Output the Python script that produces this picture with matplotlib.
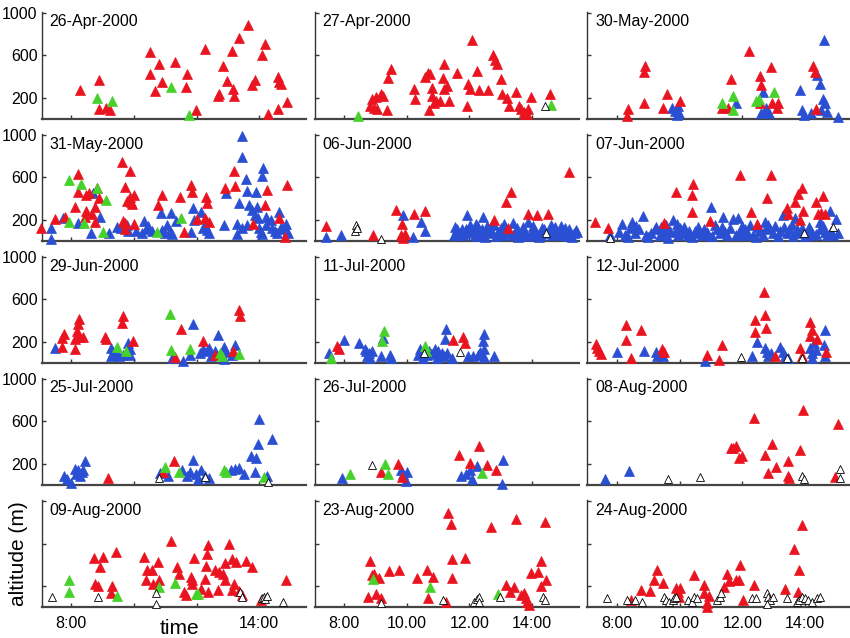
import matplotlib
matplotlib.use("Agg")
import matplotlib.pyplot as plt

plt.rcParams['font.family'] = ['Liberation Sans', 'DejaVu Sans']

# ---- data: (time in hours, altitude in m) per panel and class ----
# r = red, b = blue, g = green, o = open triangles

apr26_r = [(8.26, 274), (8.87, 370), (8.87, 94), (9.1, 104), (9.25, 82), (10.5, 632), (10.52, 424),
           (10.68, 264), (10.8, 514), (10.9, 344), (11.3, 536), (11.65, 302), (11.69, 424), (11.98, 82),
           (12.26, 658), (12.7, 216), (12.73, 238), (12.85, 504), (12.99, 360), (13.13, 638), (13.17, 286),
           (13.2, 216), (13.36, 766), (13.65, 882), (13.77, 318), (13.86, 366), (14.1, 606), (14.2, 702),
           (14.3, 50), (14.6, 94), (14.6, 392), (14.64, 344), (14.7, 328), (14.9, 158)]
apr26_g = [(8.82, 194), (9.3, 168), (11.18, 306), (11.77, 40)]

apr27_r = [(8.83, 120), (8.89, 190), (8.94, 104), (9.0, 206), (9.05, 94), (9.18, 238), (9.23, 216),
           (9.36, 88), (9.4, 382), (9.5, 472), (10.24, 280), (10.27, 190), (10.59, 392), (10.68, 434),
           (10.7, 88), (10.73, 424), (10.79, 216), (10.82, 296), (10.86, 152), (10.94, 168), (11.05, 174),
           (11.17, 382), (11.2, 520), (11.2, 286), (11.28, 312), (11.35, 168), (11.6, 434), (11.94, 120),
           (11.96, 334), (12.03, 286), (12.1, 744), (12.26, 456), (12.31, 274), (12.61, 274), (12.77, 600),
           (12.82, 552), (12.87, 520), (13.0, 376), (13.05, 232), (13.19, 200), (13.26, 120), (13.48, 254),
           (13.6, 120), (13.66, 94), (13.75, 62), (13.78, 50), (13.83, 50), (13.87, 94), (13.96, 210),
           (14.59, 232)]
apr27_g = [(8.45, 30), (14.6, 136)]
apr27_o = [(14.41, 120)]

may30_r = [(8.32, 24), (8.36, 94), (8.85, 146), (8.85, 446), (8.9, 498), (9.46, 104), (9.6, 232),
           (10.02, 168), (11.36, 104), (11.55, 104), (11.64, 376), (12.23, 638), (12.58, 146), (12.58, 408),
           (12.61, 318), (12.91, 488), (12.96, 152), (13.1, 104), (13.14, 146), (14.27, 498), (14.32, 446),
           (14.36, 94)]
may30_b = [(9.77, 104), (9.84, 72), (9.9, 40), (9.95, 126), (9.99, 56), (11.8, 146), (12.61, 56),
           (12.66, 254), (12.75, 104), (12.79, 82), (12.87, 56), (13.84, 274), (13.92, 82), (13.98, 40),
           (14.19, 56), (14.39, 414), (14.48, 328), (14.53, 82), (14.58, 190), (14.65, 152), (14.62, 744),
           (14.71, 62), (15.06, 18)]
may30_g = [(11.35, 152), (11.69, 216), (11.72, 82), (12.44, 168), (12.53, 190), (13.01, 254)]

may31_r = [(7.04, 128), (7.47, 209), (7.81, 231), (8.11, 325), (8.2, 629), (8.2, 466), (8.43, 231),
           (8.47, 435), (8.55, 451), (8.47, 285), (8.75, 325), (8.83, 504), (8.88, 410), (8.66, 253),
           (8.77, 184), (9.62, 742), (9.73, 513), (9.78, 379), (9.89, 661), (9.64, 191), (9.73, 169),
           (9.86, 419), (9.92, 366), (9.99, 435), (9.94, 347), (9.71, 115), (9.99, 159), (10.77, 341),
           (10.9, 435), (11.46, 419), (11.6, 90), (11.81, 529), (11.84, 466), (12.02, 209), (12.31, 419),
           (12.35, 357), (12.27, 222), (12.4, 184), (12.91, 498), (13.2, 661), (13.23, 523), (13.81, 159),
           (14.19, 341), (14.26, 482), (14.64, 216), (14.83, 43), (14.88, 529)]
may31_b = [(7.36, 122), (7.36, 18), (7.72, 216), (8.2, 169), (8.69, 451), (8.93, 231), (8.64, 75),
           (9.2, 75), (9.46, 137), (9.78, 153), (9.81, 97), (10.05, 97), (10.32, 191), (10.26, 75),
           (10.37, 115), (10.58, 97), (10.85, 263), (10.9, 106), (11.06, 153), (11.17, 263), (11.22, 65),
           (11.14, 97), (11.33, 191), (11.81, 84), (11.88, 316), (11.92, 200), (12.13, 272), (12.27, 153),
           (12.34, 106), (12.4, 75), (12.88, 153), (12.93, 451), (13.3, 159), (13.3, 65), (13.36, 357),
           (13.44, 990), (13.46, 796), (13.62, 473), (13.59, 586), (13.62, 153), (13.68, 341), (13.76, 294),
           (13.89, 466), (13.87, 247), (13.94, 325), (13.98, 216), (14.05, 90), (14.1, 65), (14.14, 686),
           (14.1, 617), (14.21, 231), (14.23, 153), (14.37, 200), (14.42, 122), (14.58, 75), (14.64, 272),
           (14.69, 137), (14.87, 159), (14.9, 90), (14.94, 75), (9.6, 120), (10.45, 140), (11.0, 80),
           (12.2, 120), (13.45, 120), (14.0, 120), (14.5, 100), (14.75, 110)]
may31_g = [(7.94, 576), (7.94, 178), (8.32, 535), (8.39, 169), (8.83, 498), (9.12, 388), (9.0, 84),
           (10.74, 84), (11.49, 222)]

jun06_r = [(7.41, 147), (8.91, 59), (9.66, 294), (9.85, 159), (9.82, 59), (9.93, 65), (9.88, 34),
           (10.23, 253), (10.57, 285), (12.8, 200), (13.25, 122), (13.17, 366), (13.34, 466), (13.87, 253),
           (14.16, 247), (14.5, 253), (15.2, 648)]
jun06_b = [(7.41, 43), (7.91, 59), (9.88, 247), (10.2, 43), (10.47, 178), (10.59, 97),
           (11.54, 137), (11.59, 90), (11.64, 59), (11.75, 115), (11.86, 75), (11.94, 247), (12.02, 153),
           (12.13, 106), (12.18, 59), (12.29, 137), (12.34, 90), (12.45, 231), (12.5, 43), (12.66, 122),
           (12.72, 75), (12.8, 153), (12.93, 90), (13.04, 59), (13.14, 137), (13.25, 97), (13.38, 169),
           (13.47, 75), (13.57, 43), (13.68, 90), (13.79, 75), (13.89, 184), (13.98, 59), (14.11, 97),
           (14.22, 43), (14.32, 122), (14.43, 75), (14.54, 97), (14.65, 59), (14.75, 137), (14.86, 90),
           (14.97, 59), (15.07, 122), (15.18, 75), (15.29, 43), (15.4, 106), (15.45, 90),
           (11.7, 80), (11.9, 110), (12.4, 70), (12.6, 100), (13.0, 120), (13.4, 60), (13.7, 130),
           (14.0, 100), (14.4, 110), (14.8, 70), (15.2, 110), (12.2, 160), (13.1, 160), (14.6, 150),
           (11.62, 110), (11.8, 55), (12.05, 90), (12.25, 50), (12.55, 140), (12.85, 50), (13.2, 70),
           (13.52, 120), (13.85, 50), (14.05, 140), (14.3, 60), (14.7, 110), (14.92, 140), (15.12, 50),
           (15.35, 80), (11.5, 60), (12.42, 110), (13.62, 65), (14.15, 70), (15.0, 100)]
jun06_o = [(8.38, 153), (8.34, 97), (8.41, 122), (9.18, 21), (14.45, 75)]

jun07_r = [(7.29, 184), (7.71, 128), (9.49, 169), (9.88, 466), (10.43, 535), (10.41, 435), (10.38, 278),
           (10.96, 191), (11.94, 623), (12.28, 278), (12.48, 159), (12.8, 410), (12.92, 623), (13.42, 310),
           (13.47, 253), (13.68, 372), (13.77, 441), (13.9, 498), (13.84, 200), (13.95, 285), (14.37, 366),
           (14.59, 429), (14.43, 253), (14.53, 263), (14.64, 253)]
jun07_b = [(7.77, 59), (8.17, 159), (8.25, 59), (8.49, 184), (8.57, 75), (8.83, 241), (8.94, 59),
           (9.26, 137), (9.36, 59), (9.52, 97), (9.63, 28), (9.79, 200), (9.95, 59), (10.11, 75),
           (10.27, 59), (10.48, 97), (10.7, 59), (10.99, 325), (10.86, 90), (11.12, 153), (11.28, 75),
           (11.39, 231), (11.5, 59), (11.71, 209), (11.87, 222), (11.92, 90), (12.03, 59), (12.24, 153),
           (12.35, 59), (12.56, 97), (12.72, 184), (12.83, 153), (12.99, 75), (13.29, 247), (13.42, 75),
           (13.58, 153), (13.68, 216), (13.79, 75), (14.06, 75), (14.27, 59), (14.48, 184), (14.64, 90),
           (14.8, 285), (14.91, 59), (15.0, 209),
           (8.7, 110), (9.1, 80), (9.4, 130), (9.7, 100), (10.0, 120), (10.3, 100), (10.6, 130),
           (10.9, 60), (11.2, 110), (11.6, 120), (12.1, 110), (12.5, 130), (12.9, 110), (13.2, 100),
           (13.5, 110), (13.9, 120), (14.2, 100), (14.5, 110), (14.7, 60), (9.9, 160), (8.4, 120),
           (8.05, 90), (8.35, 40), (8.62, 140), (9.0, 40), (9.2, 110), (9.45, 60), (9.58, 150),
           (9.85, 90), (10.15, 130), (10.4, 40), (10.55, 80), (10.78, 110), (11.05, 50), (11.35, 130),
           (11.45, 90), (11.8, 60), (12.0, 140), (12.2, 70), (12.45, 40), (12.65, 60), (12.75, 120),
           (13.05, 140), (13.15, 50), (13.35, 130), (13.62, 50), (13.75, 110), (14.0, 50), (14.12, 130),
           (14.35, 70), (14.58, 140), (14.85, 100), (15.05, 80)]
jun07_o = [(7.77, 34), (13.97, 75), (14.89, 137)]

jun29_r = [(7.71, 153), (7.71, 238), (7.77, 269), (8.13, 134), (8.13, 228), (8.17, 300), (8.22, 363),
           (8.25, 416), (8.25, 247), (8.37, 247), (9.06, 247), (9.12, 222), (9.66, 447), (9.63, 378),
           (9.97, 206), (11.32, 59), (11.49, 325), (12.22, 206), (12.6, 80), (13.18, 113), (13.36, 503),
           (13.38, 447)]
jun29_b = [(7.47, 138), (9.27, 144), (9.27, 66), (9.34, 103), (9.51, 66), (9.81, 191), (9.87, 72),
           (9.87, 128), (11.23, 50), (11.56, 19), (11.89, 363), (11.8, 72), (12.22, 128), (12.34, 113),
           (12.4, 144), (12.46, 66), (12.58, 113), (12.7, 266), (12.88, 153), (12.88, 34), (13.24, 166),
           (13.12, 72), (9.4, 90), (9.65, 80), (12.1, 90), (12.95, 100)]
jun29_g = [(9.45, 153), (9.75, 113), (11.14, 463), (11.2, 122), (11.8, 128), (12.76, 97), (12.82, 66),
           (13.36, 81)]

jul11_r = [(7.76, 159), (7.82, 134), (11.47, 216), (11.8, 247), (11.86, 184)]
jul11_b = [(7.52, 91), (7.98, 216), (8.48, 191), (8.66, 128), (8.72, 66), (8.78, 97), (8.84, 50),
           (8.9, 113), (9.23, 238), (9.18, 66), (9.45, 72), (9.5, 50), (10.35, 72), (10.41, 128),
           (10.47, 97), (10.53, 50), (10.71, 113), (10.77, 81), (10.89, 128), (10.95, 50), (11.01, 113),
           (11.13, 97), (11.19, 66), (11.25, 322), (11.23, 222), (11.43, 50), (11.95, 66), (12.12, 66),
           (12.28, 72), (12.46, 269), (12.43, 206), (12.46, 128), (12.48, 59), (12.8, 66),
           (8.7, 110), (10.65, 80), (10.85, 95), (11.07, 75), (11.3, 90), (12.35, 100)]
jul11_g = [(7.58, 50), (9.2, 206), (9.27, 300), (10.59, 159), (10.63, 113)]
jul11_o = [(10.55, 91), (11.71, 103)]

jul12_r = [(7.34, 178), (7.36, 138), (7.42, 117), (7.5, 86), (8.28, 354), (8.3, 215), (8.43, 46),
           (8.78, 314), (9.45, 129), (9.49, 108), (10.86, 77), (11.27, 31), (11.34, 169), (12.4, 292),
           (12.4, 406), (12.71, 668), (12.73, 452), (12.76, 332), (13.05, 68), (13.85, 138), (13.9, 62),
           (14.17, 385), (14.22, 314), (14.17, 252), (14.38, 231), (14.68, 108)]
jul12_b = [(8.0, 108), (8.85, 117), (9.24, 108), (9.28, 62), (9.47, 62), (10.81, 15), (12.3, 62),
           (12.46, 200), (12.73, 138), (12.78, 108), (12.83, 62), (12.91, 92), (13.21, 148), (13.31, 108),
           (13.37, 62), (13.47, 46), (14.18, 138), (14.24, 92), (14.29, 185), (14.24, 46), (14.35, 123),
           (14.65, 314), (14.62, 169), (14.65, 62)]
jul12_o = [(11.95, 55), (13.42, 46), (13.9, 46)]

jul25_r = [(9.17, 67), (10.92, 121), (11.27, 225)]
jul25_b = [(7.77, 79), (7.86, 57), (7.98, 16), (8.12, 152), (8.16, 105), (8.21, 143), (8.26, 79),
           (8.33, 121), (8.44, 225), (8.38, 137), (10.83, 111), (11.1, 79), (11.53, 137), (11.88, 238),
           (11.71, 79), (11.79, 121), (11.97, 105), (12.06, 57), (12.14, 137), (12.28, 79), (12.41, 67),
           (13.1, 143), (13.23, 152), (13.37, 162), (13.51, 105), (13.75, 270), (13.89, 257), (13.98, 384),
           (14.01, 619), (13.86, 121), (14.24, 79), (14.41, 429)]
jul25_g = [(11.0, 168), (11.44, 121), (12.88, 137), (12.93, 121), (14.15, 73)]
jul25_o = [(10.8, 67), (12.28, 73), (14.27, 25)]

jul26_r = [(9.18, 121), (9.71, 200), (9.84, 73), (11.67, 279), (12.02, 206), (12.3, 365), (12.55, 184),
           (12.86, 137)]
jul26_b = [(7.92, 67), (9.8, 137), (9.89, 98), (9.97, 41), (10.02, 121), (11.72, 79), (11.9, 105),
           (12.02, 137), (12.07, 57), (12.25, 175), (13.04, 10), (13.07, 238)]
jul26_g = [(8.18, 98), (9.29, 200), (9.39, 98), (12.42, 111)]
jul26_o = [(8.88, 184)]

aug08_r = [(11.64, 343), (11.72, 352), (11.81, 365), (11.9, 257), (11.99, 270), (12.39, 629), (12.74, 279),
           (12.81, 111), (12.95, 384), (13.09, 168), (13.47, 225), (13.47, 79), (13.51, 67), (13.86, 333),
           (13.94, 702), (14.96, 73), (15.05, 575)]
aug08_b = [(7.62, 57), (8.37, 130)]
aug08_o = [(9.63, 57), (10.64, 73), (13.91, 79), (13.96, 57), (15.14, 152), (15.14, 67)]

aug09_r = [(8.72, 465), (8.77, 218), (8.85, 200), (8.9, 385), (9.0, 477), (9.3, 200), (9.28, 132),
           (9.43, 526), (10.32, 477), (10.42, 354), (10.37, 262), (10.58, 348), (10.6, 218), (10.77, 425),
           (10.79, 255), (11.2, 625), (11.38, 385), (11.43, 317), (11.6, 148), (11.65, 117), (11.81, 286),
           (11.84, 255), (11.86, 218), (11.92, 465), (12.13, 169), (12.27, 271), (12.31, 394), (12.34, 502),
           (12.37, 588), (12.37, 148), (12.59, 354), (12.69, 163), (12.71, 332), (12.84, 311), (12.9, 415),
           (12.9, 262), (13.04, 600), (13.12, 163), (13.14, 455), (13.2, 218), (13.27, 425), (13.36, 157),
           (13.44, 117), (13.59, 434), (13.77, 385), (14.05, 65), (14.85, 255)]
aug09_g = [(7.91, 262), (7.91, 148), (9.46, 108), (10.81, 188), (11.31, 231), (11.97, 126), (12.06, 126)]
aug09_o = [(7.38, 95), (8.85, 95), (10.69, 138), (10.69, 34), (13.38, 148), (13.46, 102), (14.1, 86),
           (14.15, 102), (14.2, 77), (14.26, 108), (14.77, 46)]

aug23_r = [(8.81, 440), (8.77, 102), (8.88, 302), (8.96, 311), (9.11, 280), (9.0, 126), (9.17, 86),
           (9.44, 342), (9.75, 354), (10.34, 280), (10.65, 348), (10.67, 86), (10.84, 286), (11.26, 46),
           (11.31, 886), (11.4, 785), (11.45, 455), (11.45, 280), (11.86, 465), (12.69, 754), (13.18, 209),
           (13.29, 148), (13.44, 188), (13.48, 834), (13.65, 117), (13.74, 138), (13.8, 86), (13.83, 46),
           (13.91, 25), (13.98, 323), (14.21, 332), (14.3, 440), (14.28, 200), (14.46, 262), (14.43, 803)]
aug23_g = [(8.92, 271), (10.73, 194), (12.9, 126)]
aug23_o = [(9.19, 40), (11.15, 65), (12.16, 46), (12.24, 77), (12.3, 102), (12.32, 46), (12.98, 102),
           (14.35, 102), (14.41, 71)]

aug24_r = [(8.44, 71), (8.76, 163), (9.06, 157), (9.17, 255), (9.28, 354), (9.47, 231), (9.89, 178),
           (9.94, 148), (10.0, 178), (9.98, 102), (10.47, 302), (10.78, 209), (10.78, 132), (10.94, 108),
           (10.89, 40), (10.87, 3), (11.42, 194), (11.5, 317), (11.58, 249), (11.8, 262), (11.94, 403),
           (11.89, 262), (12.02, 65), (12.39, 209), (13.36, 169), (13.67, 548), (13.8, 354), (13.78, 148),
           (13.91, 778)]
aug24_o = [(7.69, 86), (8.31, 65), (8.56, 65), (8.8, 46), (9.5, 102), (9.56, 71), (9.67, 46), (9.78, 65),
           (9.83, 86), (9.89, 102), (10.28, 71), (10.39, 46), (10.47, 102), (10.56, 86), (11.2, 71),
           (11.28, 102), (11.33, 132), (12.31, 86), (12.44, 86), (12.78, 132), (12.83, 102), (12.89, 71),
           (13.0, 102), (12.78, 34), (13.42, 86), (13.76, 46), (13.83, 71), (13.91, 102), (14.0, 86),
           (14.11, 65), (14.24, 46), (14.39, 86), (14.5, 102)]

dates = ["26-Apr-2000", "27-Apr-2000", "30-May-2000",
         "31-May-2000", "06-Jun-2000", "07-Jun-2000",
         "29-Jun-2000", "11-Jul-2000", "12-Jul-2000",
         "25-Jul-2000", "26-Jul-2000", "08-Aug-2000",
         "09-Aug-2000", "23-Aug-2000", "24-Aug-2000"]

# (blue, red, green, open) for each panel, same order as dates
panels = [([], apr26_r, apr26_g, []), ([], apr27_r, apr27_g, apr27_o), (may30_b, may30_r, may30_g, []),
          (may31_b, may31_r, may31_g, []), (jun06_b, jun06_r, [], jun06_o), (jun07_b, jun07_r, [], jun07_o),
          (jun29_b, jun29_r, jun29_g, []), (jul11_b, jul11_r, jul11_g, jul11_o), (jul12_b, jul12_r, [], jul12_o),
          (jul25_b, jul25_r, jul25_g, jul25_o), (jul26_b, jul26_r, jul26_g, jul26_o), (aug08_b, aug08_r, [], aug08_o),
          ([], aug09_r, aug09_g, aug09_o), ([], aug23_r, aug23_g, aug23_o), ([], aug24_r, [], aug24_o)]

xticks = [8, 10, 12, 14]
xlabels_left = ["8:00", "", "", "14:00"]
xlabels_other = ["8:00", "10.00", "12.00", "14:00"]
yticks = [200, 600, 1000]

blue = '#2a4fd2'
red = '#ea1420'
green = '#46d22a'

fig = plt.figure(figsize=(8.5, 6.38), dpi=100)

lefts = [0.049, 0.370, 0.691]
bottoms = [0.8135, 0.622, 0.431, 0.240, 0.048]
w = 0.311
h = 0.168

for i in range(15):
    row = i // 3
    col = i % 3
    ax = fig.add_axes([lefts[col], bottoms[row], w, h])
    b, r, g, o = panels[i]
    for pts, fc, ec in [(b, blue, blue), (r, red, red), (g, green, green), (o, 'white', 'black')]:
        if len(pts) == 0:
            continue
        x = [p[0] for p in pts]
        y = [p[1] for p in pts]
        if fc == 'white':
            ax.plot(x, y, '^', ms=6.0, mfc=fc, mec=ec, mew=0.6, clip_on=False, zorder=3)
        else:
            ax.plot(x, y, '^', ms=6.6, mfc=fc, mec=ec, mew=0.5, clip_on=False, zorder=3)

    ax.set_xlim(7.05, 15.5)
    ax.set_ylim(0, 1010)
    ax.spines['top'].set_visible(False)
    ax.spines['right'].set_visible(False)
    ax.spines['left'].set_color('#333333')
    ax.spines['left'].set_linewidth(1.0)
    ax.spines['bottom'].set_color('#444444')
    ax.spines['bottom'].set_linewidth(1.6)
    ax.tick_params(direction='in', length=3, width=1, colors='#333333', labelsize=11.5, labelcolor='black')
    ax.tick_params(axis='y', pad=3)
    ax.tick_params(axis='x', pad=6)
    ax.set_xticks(xticks)
    ax.set_yticks(yticks)

    if row == 4:
        if col == 0:
            ax.set_xticklabels(xlabels_left)
        else:
            ax.set_xticklabels(xlabels_other)
    else:
        ax.set_xticklabels([])
    if col == 0 and row < 4:
        ax.set_yticklabels([str(v) for v in yticks])
    else:
        ax.set_yticklabels([])

    ax.text(0.03, 0.905, dates[i], transform=ax.transAxes, fontsize=11.5, va='center', ha='left')

    if row == 4 and col == 0:
        ax.set_ylabel("altitude (m)", fontsize=15, labelpad=7)

fig.text(179 / 850, 1 - 629 / 638, "time", ha='center', va='center', fontsize=15)

fig.savefig("out.png", dpi=100)
